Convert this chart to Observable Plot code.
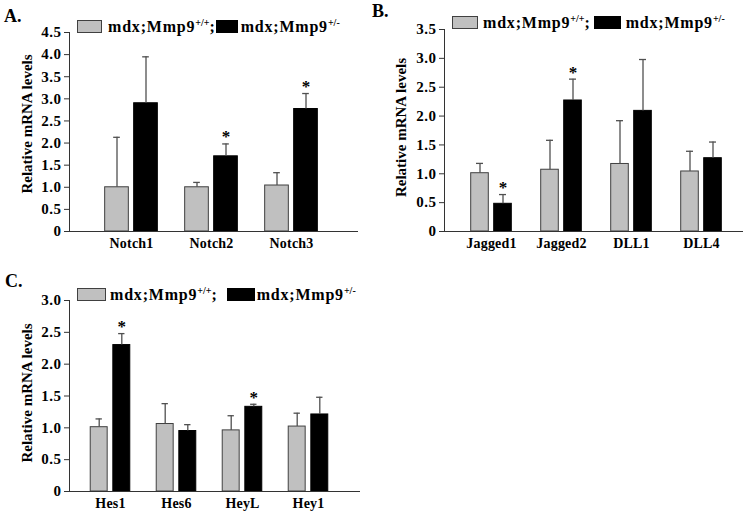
<!DOCTYPE html>
<html>
<head>
<meta charset="utf-8">
<script src="https://cdn.jsdelivr.net/npm/d3@7"></script>
<script src="https://cdn.jsdelivr.net/npm/@observablehq/plot@0.6"></script>
<style>
  html, body { margin: 0; padding: 0; background: #fff; }
  #wrap { position: relative; width: 747px; height: 514px; overflow: hidden;
          font-family: "Liberation Serif", "DejaVu Serif", serif; font-weight: bold; color: #000; }
  .panel { position: absolute; }
  .panel svg g[aria-label="y-axis tick label"] { font-size: 15px; font-weight: bold; letter-spacing: 0.5px; }
  .panel svg g[aria-label="x-axis tick label"] { font-size: 14px; font-weight: bold; letter-spacing: 0.2px; }
  .plabel { position: absolute; font-size: 18px; line-height: 18px; }
  .legend { position: absolute; display: flex; align-items: center; height: 13px; font-size: 16px; letter-spacing: 0.8px; white-space: nowrap; }
  .sw { display: inline-block; height: 13px; box-sizing: border-box; }
  .sw.wt { background: #c0c0c0; border: 1px solid #404040; }
  .sw.het { background: #000; border: 1px solid #000; }
  .legend sup { font-size: 10px; vertical-align: 6px; line-height: 0; letter-spacing: 0; }
</style>
</head>
<body>
<div id="wrap"></div>
<script>
// ---------- data ----------
const seriesNames = ["mdx;Mmp9+/+", "mdx;Mmp9+/-"];

// Panel A
const genesA = ["Notch1", "Notch2", "Notch3"];
const wtA = [1.00, 1.00, 1.04];
const wtErrA = [1.13, 0.11, 0.29];
const hetA = [2.90, 1.70, 2.77];
const hetErrA = [1.05, 0.28, 0.35];
const sigA = [false, true, true];
const ticksA = [0, 0.5, 1.0, 1.5, 2.0, 2.5, 3.0, 3.5, 4.0, 4.5];

// Panel B
const genesB = ["Jagged1", "Jagged2", "DLL1", "DLL4"];
const wtB = [1.01, 1.07, 1.17, 1.04];
const wtErrB = [0.17, 0.51, 0.75, 0.35];
const hetB = [0.48, 2.27, 2.09, 1.27];
const hetErrB = [0.16, 0.37, 0.89, 0.28];
const sigB = [true, true, false, false];
const ticksB = [0, 0.5, 1.0, 1.5, 2.0, 2.5, 3.0, 3.5];

// Panel C
const genesC = ["Hes1", "Hes6", "HeyL", "Hey1"];
const wtC = [1.01, 1.06, 0.96, 1.02];
const wtErrC = [0.13, 0.32, 0.23, 0.21];
const hetC = [2.30, 0.95, 1.33, 1.21];
const hetErrC = [0.18, 0.10, 0.04, 0.27];
const sigC = [true, false, true, false];
const ticksC = [0, 0.5, 1.0, 1.5, 2.0, 2.5, 3.0];

const yTitle = "Relative mRNA levels";
const FONT = "Liberation Serif, DejaVu Serif, serif";

function rows(genes, means, errs, sig) {
  return genes.map((g, i) => ({gene: g, mean: means[i], err: errs[i], top: means[i] + errs[i], sig: sig ? sig[i] : false}));
}

function makePanel(cfg) {
  const {genes, wt, wtErr, het, hetErr, sig, ticks, width, height, mL, mR, mT, mB, xRange, gap, bw, titleDx, titleDy} = cfg;
  const s = (xRange[1] - xRange[0]) / genes.length; // bandwidth
  const half = s / 2;
  const wtRows = rows(genes, wt, wtErr, null);
  const hetRows = rows(genes, het, hetErr, sig);
  const offW = -(gap + bw / 2), offH = gap + bw / 2;
  const capHalf = 3.5;
  return Plot.plot({
    width, height,
    marginLeft: mL, marginRight: mR, marginTop: mT, marginBottom: mB,
    style: {fontFamily: FONT, background: "transparent", overflow: "visible"},
    x: {domain: genes, range: xRange, padding: 0, label: null},
    y: {domain: [0, ticks[ticks.length - 1]], label: null},
    marks: [
      Plot.barY(wtRows, {x: "gene", y: "mean", fill: "#c0c0c0", stroke: "#404040", strokeWidth: 1,
        insetLeft: half - gap - bw, insetRight: half + gap}),
      Plot.barY(hetRows, {x: "gene", y: "mean", fill: "#000", stroke: "#000", strokeWidth: 1,
        insetLeft: half + gap, insetRight: half - gap - bw}),
      Plot.ruleX(wtRows, {x: "gene", y1: "mean", y2: "top", dx: offW, stroke: "#505050", strokeWidth: 1.3}),
      Plot.ruleX(hetRows, {x: "gene", y1: "mean", y2: "top", dx: offH, stroke: "#505050", strokeWidth: 1.3}),
      Plot.tickY(wtRows, {x: "gene", y: "top", dx: offW, insetLeft: half - capHalf, insetRight: half - capHalf, stroke: "#505050", strokeWidth: 1.3}),
      Plot.tickY(hetRows, {x: "gene", y: "top", dx: offH, insetLeft: half - capHalf, insetRight: half - capHalf, stroke: "#505050", strokeWidth: 1.3}),
      Plot.text(hetRows.filter(d => d.sig), {x: "gene", y: "top", text: () => "*", dx: offH, dy: -7,
        fontSize: 17, fontWeight: "bold", fill: "#000", fontFamily: FONT}),
      Plot.ruleY([0], {stroke: "#333", strokeWidth: 1}),
      Plot.frame({anchor: "left", stroke: "#333", strokeWidth: 1}),
      Plot.axisY({ticks, tickSize: 5, tickPadding: 3, stroke: "#333",
        tickFormat: d => d === 0 ? "0" : d.toFixed(1),
        fontSize: 15, fontWeight: "bold", fontFamily: FONT, fill: "#000", label: null}),
      Plot.axisX({tickSize: 0, tickPadding: 7, fontSize: 14, fontWeight: "bold", fontFamily: FONT, fill: "#000", label: null}),
      Plot.text([yTitle], {frameAnchor: "left", dx: titleDx, dy: titleDy, rotate: -90, text: d => d,
        textAnchor: "middle", lineAnchor: "middle",
        fontSize: 15, fontWeight: "bold", fontFamily: FONT, fill: "#000"})
    ]
  });
}

const wrap = document.getElementById("wrap");

function addPanel(left, top, plot) {
  const d = document.createElement("div");
  d.className = "panel";
  d.style.left = left + "px";
  d.style.top = top + "px";
  d.appendChild(plot);
  wrap.appendChild(d);
}
function addLabel(text, left, top) {
  const d = document.createElement("div");
  d.className = "plabel";
  d.style.left = left + "px";
  d.style.top = top + "px";
  d.textContent = text;
  wrap.appendChild(d);
}
function supName(name) {
  const i = name.indexOf("9") + 1;
  return name.slice(0, i) + "<sup>" + name.slice(i) + "</sup>";
}
function addLegend(left, top, sw1, g1, sw2, g2, mid) {
  const d = document.createElement("div");
  d.className = "legend";
  d.style.left = left + "px";
  d.style.top = top + "px";
  d.innerHTML =
    `<span class="sw wt" style="width:${sw1}px"></span>` +
    `<span style="margin-left:${g1}px">${supName(seriesNames[0])};</span>` +
    `<span class="sw het" style="width:${sw2}px;margin-left:${mid}px"></span>` +
    `<span style="margin-left:${g2}px">${supName(seriesNames[1])}</span>`;
  wrap.appendChild(d);
}

// Panel A
addPanel(0, 0, makePanel({
  genes: genesA, wt: wtA, wtErr: wtErrA, het: hetA, hetErr: hetErrA, sig: sigA, ticks: ticksA,
  width: 370, height: 260, mL: 69, mR: 12, mT: 32, mB: 29,
  xRange: [90, 331], gap: 2.5, bw: 24, titleDx: -42, titleDy: -8
}));
// Panel B
addPanel(370, 0, makePanel({
  genes: genesB, wt: wtB, wtErr: wtErrB, het: hetB, hetErr: hetErrB, sig: sigB, ticks: ticksB,
  width: 377, height: 260, mL: 74, mR: 4, mT: 29, mB: 29,
  xRange: [85.5, 365.5], gap: 2.7, bw: 17.6, titleDx: -43, titleDy: -3
}));
// Panel C
addPanel(0, 255, makePanel({
  genes: genesC, wt: wtC, wtErr: wtErrC, het: hetC, hetErr: hetErrC, sig: sigC, ticks: ticksC,
  width: 370, height: 259, mL: 69, mR: 10, mT: 45, mB: 23,
  xRange: [75.7, 342.3], gap: 2.5, bw: 17.6, titleDx: -42, titleDy: -3
}));

addLabel("A.", 4, 7);
addLabel("B.", 372, 2);
addLabel("C.", 5, 272);

addLegend(77, 20, 25, 6, 22, 3, 0);
addLegend(452, 16, 26, 5, 27, 5, 3);
addLegend(77, 288, 29, 4, 28, 2, 9);
</script>
</body>
</html>
